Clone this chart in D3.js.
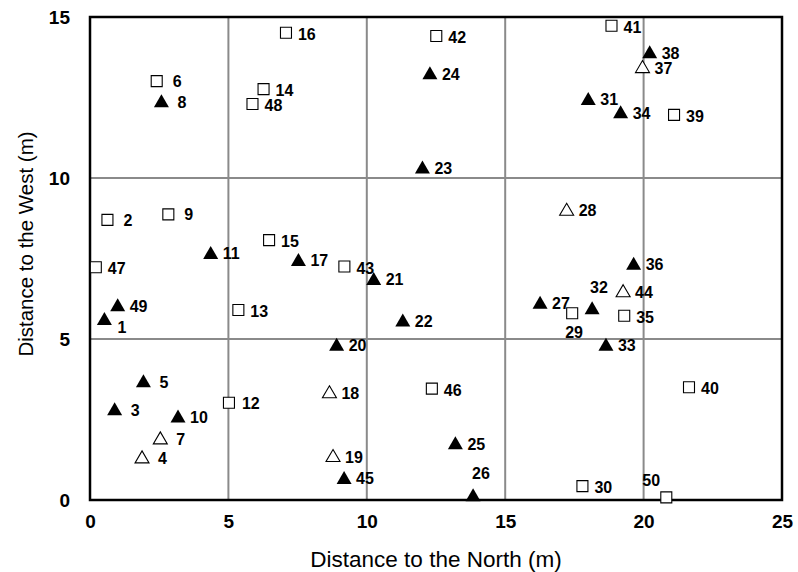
<!DOCTYPE html>
<html>
<head>
<meta charset="utf-8">
<script src="https://cdn.jsdelivr.net/npm/d3@7"></script>
<style>
    body { margin: 0; background: white; }
    svg { display: block; font-family: "Liberation Sans", Arial, sans-serif; }
</style>
</head>
<body>
<svg></svg>
<script>
var screen = {width: 798, height: 572};
var margins = {top: 17, right: 16, bottom: 72, left: 90};

// point numbers, positions (m) and marker kind
var ids   = [1, 2, 3, 4, 5, 6, 7, 8, 9, 10,
             11, 12, 13, 14, 15, 16, 17, 18, 19, 20,
             21, 22, 23, 24, 25, 26, 27, 28, 29, 30,
             31, 32, 33, 34, 35, 36, 37, 38, 39, 40,
             41, 42, 43, 44, 45, 46, 47, 48, 49, 50];
var north = [0.52, 0.63, 0.89, 1.88, 1.93, 2.41, 2.54, 2.58, 2.83, 3.18,
             4.36, 5.02, 5.36, 6.27, 6.47, 7.08, 7.53, 8.65, 8.78, 8.91,
             10.25, 11.30, 12.01, 12.28, 13.20, 13.84, 16.26, 17.22, 17.42, 17.79,
             18.00, 18.14, 18.64, 19.17, 19.30, 19.64, 19.96, 20.22, 21.10, 21.64,
             18.84, 12.51, 9.19, 19.26, 9.18, 12.35, 0.21, 5.87, 1.00, 20.82];
var west  = [5.64, 8.70, 2.83, 1.34, 3.70, 13.01, 1.93, 12.40, 8.87, 2.61,
             7.69, 3.02, 5.90, 12.76, 8.07, 14.51, 7.47, 3.36, 1.38, 4.84,
             6.88, 5.59, 10.34, 13.27, 1.78, 0.16, 6.14, 9.03, 5.80, 0.43,
             12.47, 5.97, 4.84, 12.06, 5.72, 7.35, 13.46, 13.92, 11.96, 3.50,
             14.73, 14.41, 7.25, 6.50, 0.70, 3.46, 7.23, 12.30, 6.06, 0.08];
var kind  = ["F", "S", "F", "O", "F", "S", "O", "F", "S", "F",
             "F", "S", "S", "S", "S", "S", "F", "O", "O", "F",
             "F", "F", "F", "F", "F", "F", "F", "O", "S", "S",
             "F", "F", "F", "F", "S", "F", "O", "F", "S", "S",
             "S", "S", "S", "O", "F", "S", "S", "S", "F", "S"];

var xTicks = [0, 5, 10, 15, 20, 25];
var yTicks = [0, 5, 10, 15];

// where a label sits relative to its marker (default: right of it)
var labelShift = {
    1: [13, 15], 2: [16, 6], 3: [16, 7], 4: [16, 7], 5: [16, 7],
    6: [16, 6], 7: [16, 7], 8: [16, 7], 9: [16, 6], 12: [13, 6],
    26: [-1, -16], 29: [-7, 25], 32: [-2, -15], 50: [-24, -11]
};

var width = screen.width - margins.left - margins.right;
var height = screen.height - margins.top - margins.bottom;

var svg = d3.select("svg")
    .attr("width", screen.width)
    .attr("height", screen.height);

var xScale = d3.scaleLinear().domain([0, 25]).range([0, width]);
var yScale = d3.scaleLinear().domain([0, 15]).range([height, 0]);

var graph = svg.append("g")
    .attr("transform", "translate(" + margins.left + "," + margins.top + ")");

// grid
graph.append("g")
    .selectAll("line.gx")
    .data(xTicks.slice(1, -1))
    .enter()
    .append("line")
    .attr("x1", function(d){return xScale(d);})
    .attr("x2", function(d){return xScale(d);})
    .attr("y1", 0)
    .attr("y2", height)
    .attr("stroke", "#8a8a8a")
    .attr("stroke-width", 2);

graph.append("g")
    .selectAll("line.gy")
    .data(yTicks.slice(1, -1))
    .enter()
    .append("line")
    .attr("x1", 0)
    .attr("x2", width)
    .attr("y1", function(d){return yScale(d);})
    .attr("y2", function(d){return yScale(d);})
    .attr("stroke", "#8a8a8a")
    .attr("stroke-width", 2);

// frame
graph.append("rect")
    .attr("x", 0)
    .attr("y", 0)
    .attr("width", width)
    .attr("height", height)
    .attr("fill", "none")
    .attr("stroke", "black")
    .attr("stroke-width", 2.5);

// axes, labels only
var xAxis = d3.axisBottom(xScale).tickValues(xTicks).tickSize(0).tickPadding(15);
var yAxis = d3.axisLeft(yScale).tickValues(yTicks).tickSize(0).tickPadding(20);

graph.append("g")
    .attr("transform", "translate(0," + height + ")")
    .call(xAxis)
    .call(function(g){ g.select(".domain").remove(); });

graph.append("g")
    .call(yAxis)
    .call(function(g){ g.select(".domain").remove(); });

graph.selectAll(".tick text")
    .attr("font-family", "Liberation Sans, Arial, sans-serif")
    .attr("font-size", 19)
    .attr("font-weight", "bold")
    .attr("fill", "black");

// axis titles
svg.append("text")
    .attr("x", margins.left + width / 2)
    .attr("y", 567)
    .attr("text-anchor", "middle")
    .attr("font-size", 22.5)
    .text("Distance to the North (m)");

svg.append("text")
    .attr("transform", "translate(33,244) rotate(-90)")
    .attr("text-anchor", "middle")
    .attr("font-size", 20.5)
    .text("Distance to the West (m)");

// markers
var triangle = function(w, h)
{
    var p = d3.path();
    p.moveTo(0, -h / 2);
    p.lineTo(w / 2, h / 2);
    p.lineTo(-w / 2, h / 2);
    p.closePath();
    return p.toString();
};

var square = function(s)
{
    var p = d3.path();
    p.rect(-s / 2, -s / 2, s, s);
    return p.toString();
};

var points = ids.map(function(id, i)
{
    return {id: id, x: north[i], y: west[i], kind: kind[i]};
});

var marks = graph.append("g")
    .selectAll("g")
    .data(points)
    .enter()
    .append("g")
    .attr("transform", function(d)
    {
        return "translate(" + xScale(d.x) + "," + yScale(d.y) + ")";
    });

marks.append("path")
    .attr("d", function(d)
    {
        if (d.kind == "S") return square(11);
        if (d.kind == "O") return triangle(14, 12);
        return triangle(15, 13);
    })
    .attr("fill", function(d){return d.kind == "F" ? "black" : "white";})
    .attr("stroke", "black")
    .attr("stroke-width", function(d){return d.kind == "F" ? 0 : 1.1;});

marks.append("text")
    .attr("x", function(d){return labelShift[d.id] ? labelShift[d.id][0] : 12;})
    .attr("y", function(d){return labelShift[d.id] ? labelShift[d.id][1] : 7;})
    .attr("font-size", 16)
    .attr("font-weight", "bold")
    .text(function(d){return d.id;});
</script>
</body>
</html>
